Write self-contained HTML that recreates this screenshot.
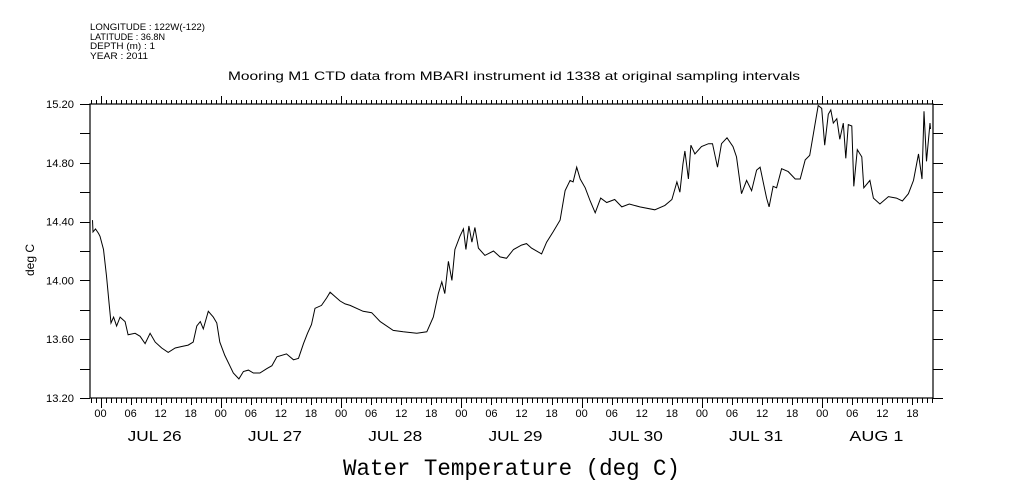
<!DOCTYPE html>
<html><head><meta charset="utf-8"><style>
html,body{margin:0;padding:0;background:#fff;}
svg{display:block;}
text{font-family:"Liberation Sans",sans-serif;fill:#000;}
</style></head><body>
<svg id="chart" width="1009" height="504" xmlns="http://www.w3.org/2000/svg">
<g font-size="9">
<text x="90" y="30" textLength="115" lengthAdjust="spacingAndGlyphs">LONGITUDE : 122W(-122)</text>
<text x="90" y="40" textLength="75" lengthAdjust="spacingAndGlyphs">LATITUDE : 36.8N</text>
<text x="90" y="49" textLength="65" lengthAdjust="spacingAndGlyphs">DEPTH (m) : 1</text>
<text x="90" y="59" textLength="58" lengthAdjust="spacingAndGlyphs">YEAR : 2011</text>
</g>
<text x="228" y="80" textLength="572" lengthAdjust="spacingAndGlyphs" font-size="12">Mooring M1 CTD data from MBARI instrument id 1338 at original sampling intervals</text>
<text transform="translate(34,260) rotate(-90)" text-anchor="middle" font-size="12">deg C</text>
<text x="343" y="475" textLength="337" lengthAdjust="spacingAndGlyphs" font-size="23" style="font-family:'Liberation Mono',monospace">Water Temperature (deg C)</text>
<g id="axes"></g>
<g id="series"></g>
</svg>
<script>
const hours = [-1.6,-1.5,-1.0,-0.4,-0.1,0.6,1.2,1.7,2.1,2.6,3.2,3.9,4.9,5.5,6.9,7.9,8.9,9.9,10.9,12.2,13.5,14.9,16.2,17.5,18.5,19.2,19.9,20.5,21.5,22.5,23.2,23.8,24.8,25.8,26.5,27.6,28.5,29.5,30.5,31.8,33.2,34.2,35.2,37.1,38.5,39.5,40.5,41.3,42.1,42.8,44.1,45.1,45.8,46.8,47.8,48.8,49.8,52.4,54.1,55.8,58.4,60.4,63.1,65.1,66.4,67.4,68.1,68.7,69.4,70.1,70.7,71.7,72.4,72.9,73.5,74.1,74.7,75.4,76.7,78.4,79.7,81.0,82.4,84.0,85.0,86.0,88.0,89.0,90.3,91.7,92.7,93.7,94.3,95.0,95.7,96.7,97.7,98.7,99.8,101.0,102.6,104.0,105.5,107.6,110.6,112.6,114.0,115.0,115.6,116.2,116.6,117.3,117.8,118.6,119.9,121.3,122.1,123.1,123.9,125.0,126.2,126.9,127.9,128.9,129.9,130.9,131.6,132.4,132.9,133.4,134.2,134.9,135.9,137.2,138.6,139.6,140.6,141.5,142.2,143.2,143.9,144.5,145.2,145.7,146.2,146.9,147.5,148.2,148.7,149.2,149.9,150.3,151.0,151.9,152.3,153.5,154.2,155.5,157.2,158.8,160.0,161.2,162.2,163.2,163.9,164.3,164.8,165.5,165.6];
const temps = [14.41,14.33,14.35,14.32,14.30,14.21,14.03,13.85,13.71,13.75,13.69,13.75,13.72,13.63,13.64,13.62,13.57,13.64,13.58,13.54,13.51,13.54,13.55,13.56,13.58,13.69,13.72,13.67,13.79,13.75,13.71,13.58,13.49,13.42,13.37,13.33,13.38,13.39,13.37,13.37,13.40,13.42,13.48,13.50,13.46,13.47,13.57,13.64,13.70,13.81,13.83,13.88,13.92,13.89,13.86,13.84,13.83,13.79,13.78,13.72,13.66,13.65,13.64,13.65,13.75,13.91,13.99,13.91,14.13,14.00,14.21,14.30,14.35,14.21,14.37,14.26,14.36,14.22,14.17,14.20,14.16,14.15,14.21,14.24,14.25,14.22,14.18,14.26,14.33,14.41,14.61,14.68,14.67,14.77,14.69,14.63,14.54,14.46,14.56,14.53,14.55,14.50,14.52,14.50,14.48,14.51,14.55,14.67,14.60,14.79,14.88,14.69,14.92,14.86,14.91,14.93,14.93,14.77,14.93,14.97,14.91,14.84,14.59,14.68,14.61,14.75,14.77,14.64,14.56,14.50,14.64,14.63,14.76,14.74,14.69,14.69,14.82,14.85,14.99,15.19,15.17,14.92,15.13,15.16,15.07,15.10,14.96,15.07,14.83,15.06,15.05,14.64,14.89,14.84,14.63,14.68,14.56,14.52,14.57,14.56,14.54,14.59,14.68,14.86,14.69,15.15,14.81,15.07,15.03];
const yTickLabels = ["13.20","13.60","14.00","14.40","14.80","15.20"];
const hourLabels = ["00","06","12","18"];
const dayLabels = ["JUL 26","JUL 27","JUL 28","JUL 29","JUL 30","JUL 31","AUG  1"];

const L=90,R=933,T=104,B=398;
const xMin=-2.1,xMax=166.1,yMin=13.2,yMax=15.2;
const sx=h=>L+(h-xMin)/(xMax-xMin)*(R-L);
const sy=v=>B-(v-yMin)/(yMax-yMin)*(B-T);
const NS="http://www.w3.org/2000/svg";
const axes=document.getElementById('axes');
function mk(tag,attrs,parent){const e=document.createElementNS(NS,tag);for(const k in attrs)e.setAttribute(k,attrs[k]);parent.appendChild(e);return e;}

const frame=mk('rect',{x:L,y:T,width:R-L,height:B-T,fill:'none',stroke:'#000','stroke-width':1.2},axes);



for(let v=yMin;v<=yMax+1e-6;v+=0.2){
  const y=Math.round(sy(v))+0.5;
  const tl=mk('line',{x1:L-10,x2:L,y1:y,y2:y,stroke:'#000'},axes);
  
  
  const tr=mk('line',{x1:R,x2:R+10,y1:y,y2:y,stroke:'#000'},axes);
  
  
}
yTickLabels.forEach(s=>{
  const t=mk('text',{x:L-44,y:sy(parseFloat(s))+4,textLength:28,lengthAdjust:'spacingAndGlyphs','font-size':11},axes);
  t.textContent=s;
  
  
});
for(let h=Math.ceil(xMin);h<=xMax;h++){
  const x=Math.round(sx(h))+0.5;
  const major=(h%24===0);
  const lenB=major?10:(h%6===0?7:5);
  const lenT=major?8:4;
  const tb=mk('line',{x1:x,x2:x,y1:B,y2:B+lenB,stroke:'#000'},axes);
  
  
  const tt=mk('line',{x1:x,x2:x,y1:T-lenT,y2:T,stroke:'#000'},axes);
  
  
  if(h%6===0 && h>=0){
    const t=mk('text',{x:sx(h),y:417,'text-anchor':'middle','font-size':11},axes);
    t.textContent=hourLabels[(h/6)%4];
    
    
  }
}
dayLabels.forEach((d,i)=>{
  const t=mk('text',{x:sx(i*24+12)-33,y:441,textLength:54,lengthAdjust:'spacingAndGlyphs','font-size':15,'xml:space':'preserve'},axes);
  t.textContent=d;
  
  
});
const pts=hours.map((h,i)=>sx(h).toFixed(1)+','+sy(temps[i]).toFixed(1)).join(' ');
const line=mk('polyline',{points:pts,fill:'none',stroke:'#000','stroke-width':1,'stroke-linejoin':'miter'},document.getElementById('series'));


</script>
</body></html>
